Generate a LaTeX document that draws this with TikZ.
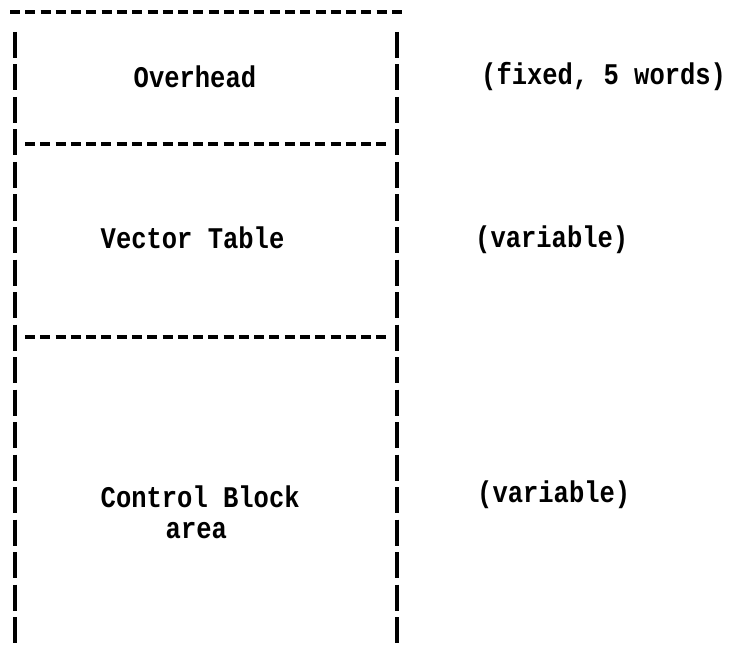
\documentclass[tikz,border=0pt]{standalone}
\usepackage{fontspec}
\newfontfamily\typewriter{Liberation Mono}[FakeStretch=0.85]
\usetikzlibrary{positioning}

\begin{document}
\begin{tikzpicture}[
    x=1pt, y=-1pt,
    dashrule/.style={
        line width=4pt,
        dash pattern=on 10pt off 5.28pt
    },
    barrule/.style={
        line width=3.4pt,
        dash pattern=on 26pt off 6.5pt
    },
    fieldtext/.style={
        anchor=base west,
        inner sep=0pt,
        font=\typewriter\bfseries\fontsize{30pt}{32.5pt}\selectfont
    },
    notetext/.style={
        fieldtext
    }
]

\useasboundingbox (0,0) rectangle (733,655);

% Frame: top rule and the two side bars
\draw[dashrule] (10,12) -- (402,12);
\draw[barrule] (15,32) -- (15,643);
\draw[barrule] (397,32) -- (397,643);

% Separators between the three areas
\draw[dashrule] (25,144) -- (386.4,144);
\draw[dashrule] (25,337) -- (386.4,337);

% Area 1: Overhead
\node[fieldtext] (overhead) at (133.5,88) {Overhead};

% Area 2: Vector table
\node[fieldtext] (vectors) at (100.5,248) {Vector Table};

% Area 3: Control blocks (two lines, set one by one)
\node[fieldtext] (ctlblock) at (100.5,507) {Control Block};
\node[fieldtext] (ctlarea) at (165.5,538) {area};

% Sizes, right of the frame
\node[notetext] (fixednote) at (481,85) {(fixed, 5 words)};
\node[notetext] (varnote) at (475,247) {(variable)};
\node[notetext] (ctlnote) at (477,502) {(variable)};

\end{tikzpicture}
\end{document}
